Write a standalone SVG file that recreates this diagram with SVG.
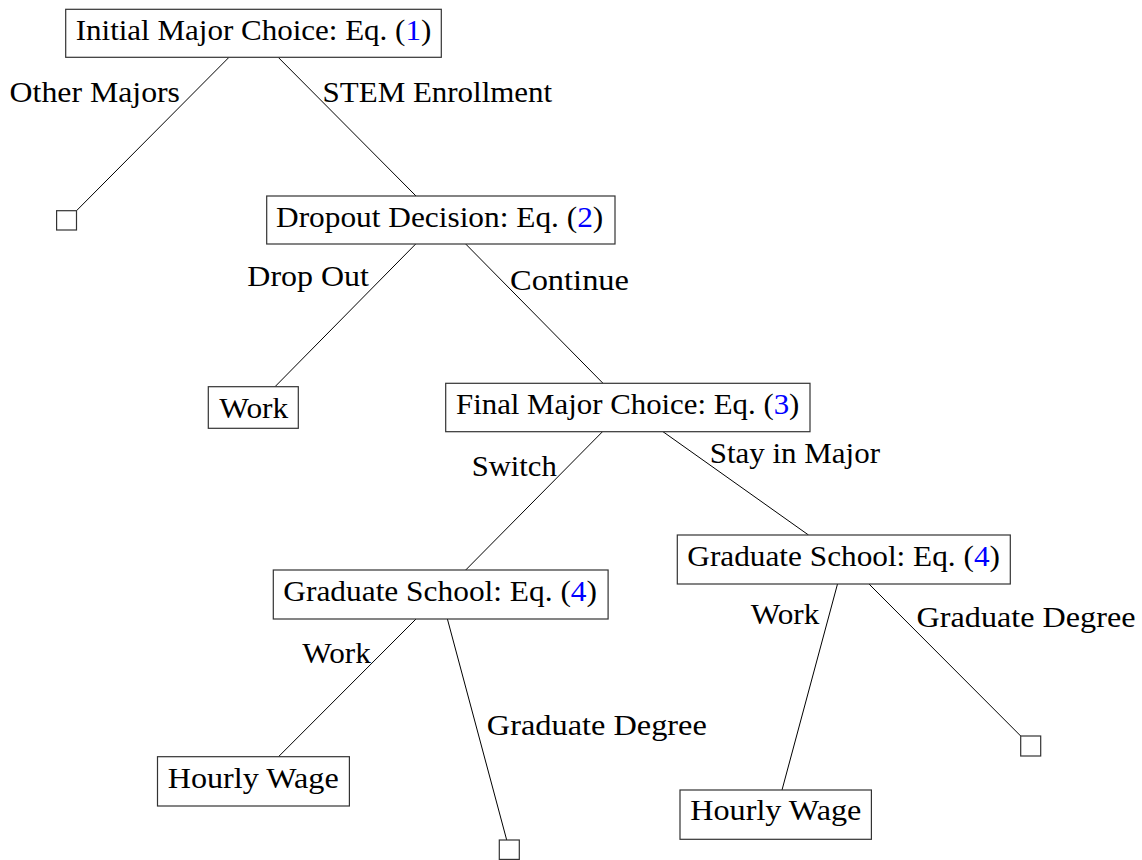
<svg xmlns="http://www.w3.org/2000/svg" width="1142" height="860" viewBox="0 0 1142 860">
<style>
.box{fill:#fff;stroke:#333;stroke-width:1.2}
.leaf{fill:#fff;stroke:#333;stroke-width:1.2}
.t{font-family:"Liberation Serif","Times New Roman",serif;font-size:29px;fill:#000}
.n{fill:#0000ff}
.edge{stroke:#000;stroke-width:1;fill:none}
</style>
<rect width="1142" height="860" fill="#fff"/>
<g id="connectors">
<line class="edge" x1="229" y1="57.3" x2="76.5" y2="210.7"/>
<line class="edge" x1="278.2" y1="57.3" x2="416" y2="196"/>
<line class="edge" x1="415.7" y1="244" x2="275" y2="386.7"/>
<line class="edge" x1="465.7" y1="244" x2="603" y2="383.3"/>
<line class="edge" x1="602.5" y1="431.7" x2="465.7" y2="570"/>
<line class="edge" x1="663" y1="431.7" x2="808.5" y2="535"/>
<line class="edge" x1="416" y1="619" x2="278.5" y2="756.7"/>
<line class="edge" x1="447.4" y1="619" x2="506.7" y2="840"/>
<line class="edge" x1="837.5" y1="584" x2="782" y2="790"/>
<line class="edge" x1="869" y1="584" x2="1020.7" y2="736"/>
<text class="t" x="9.6" y="101.7" textLength="170.4" lengthAdjust="spacingAndGlyphs">Other Majors</text>
<text class="t" x="322.6" y="101.7" textLength="229.6" lengthAdjust="spacingAndGlyphs">STEM Enrollment</text>
<text class="t" x="247.3" y="286" textLength="121.7" lengthAdjust="spacingAndGlyphs">Drop Out</text>
<text class="t" x="510" y="290" textLength="119" lengthAdjust="spacingAndGlyphs">Continue</text>
<text class="t" x="471.7" y="476" textLength="85.1" lengthAdjust="spacingAndGlyphs">Switch</text>
<text class="t" x="709.7" y="463.3" textLength="170.3" lengthAdjust="spacingAndGlyphs">Stay in Major</text>
<text class="t" x="302.3" y="663.3" textLength="68.5" lengthAdjust="spacingAndGlyphs">Work</text>
<text class="t" x="486.8" y="735" textLength="220" lengthAdjust="spacingAndGlyphs">Graduate Degree</text>
<text class="t" x="750.7" y="624.3" textLength="68.6" lengthAdjust="spacingAndGlyphs">Work</text>
<text class="t" x="916.6" y="626.7" textLength="218.9" lengthAdjust="spacingAndGlyphs">Graduate Degree</text>
</g>
<g id="initial">
<rect class="box" x="65.7" y="9.3" width="375.6" height="48"/>
<text class="t" x="75.7" y="40" textLength="355.6" lengthAdjust="spacingAndGlyphs">Initial Major Choice: Eq. (<tspan class="n">1</tspan>)</text>
</g>
<g id="leaf-other">
<rect class="leaf" x="56.6" y="210.7" width="19.9" height="19.3"/>
</g>
<g id="dropout">
<rect class="box" x="266.7" y="196" width="348.3" height="48"/>
<text class="t" x="276" y="226.7" textLength="327.3" lengthAdjust="spacingAndGlyphs">Dropout Decision: Eq. (<tspan class="n">2</tspan>)</text>
</g>
<g id="work">
<rect class="box" x="208.3" y="386.7" width="90" height="41.6"/>
<text class="t" x="219.3" y="417.7" textLength="69" lengthAdjust="spacingAndGlyphs">Work</text>
</g>
<g id="final">
<rect class="box" x="445.7" y="383.3" width="364.3" height="48.4"/>
<text class="t" x="456" y="414" textLength="343.4" lengthAdjust="spacingAndGlyphs">Final Major Choice: Eq. (<tspan class="n">3</tspan>)</text>
</g>
<g id="grad-switch">
<rect class="box" x="273.3" y="570" width="334.8" height="49"/>
<text class="t" x="283.3" y="601" textLength="313.7" lengthAdjust="spacingAndGlyphs">Graduate School: Eq. (<tspan class="n">4</tspan>)</text>
</g>
<g id="grad-stay">
<rect class="box" x="677.3" y="535" width="333" height="49"/>
<text class="t" x="687.3" y="565.7" textLength="312.7" lengthAdjust="spacingAndGlyphs">Graduate School: Eq. (<tspan class="n">4</tspan>)</text>
</g>
<g id="wage-switch">
<rect class="box" x="157.5" y="756.7" width="191.9" height="49.3"/>
<text class="t" x="167.7" y="787.7" textLength="171" lengthAdjust="spacingAndGlyphs">Hourly Wage</text>
</g>
<g id="leaf-grad-switch">
<rect class="leaf" x="499.3" y="840" width="20" height="19.4"/>
</g>
<g id="wage-stay">
<rect class="box" x="680" y="790" width="191.4" height="49.3"/>
<text class="t" x="690.3" y="820" textLength="171" lengthAdjust="spacingAndGlyphs">Hourly Wage</text>
</g>
<g id="leaf-grad-stay">
<rect class="leaf" x="1020.7" y="736" width="20" height="20"/>
</g>
</svg>
